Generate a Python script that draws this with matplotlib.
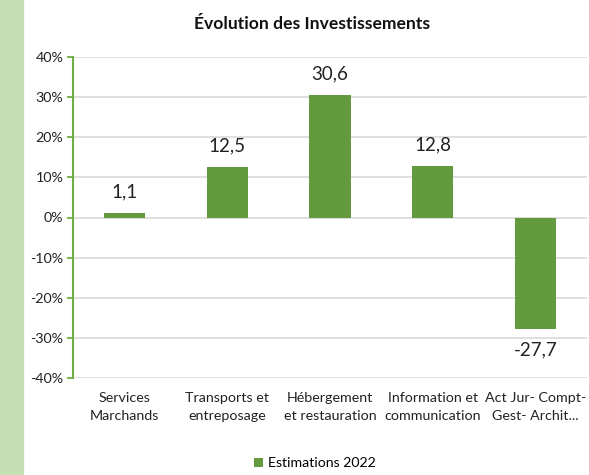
import numpy as np
import matplotlib
matplotlib.use("Agg")
import matplotlib.pyplot as plt
from matplotlib.patches import Rectangle

plt.rcParams['font.family'] = ['Lato', 'DejaVu Sans']

categories = ['Services\nMarchands', 'Transports et\nentreposage', 'Hébergement\net restauration',
              'Information et\ncommunication', 'Act Jur- Compt-\nGest- Archit...']
values = [1.1, 12.5, 30.6, 12.8, -27.7]
yticks = [-40, -30, -20, -10, 0, 10, 20, 30, 40]
series_name = 'Estimations 2022'

bar_color = '#629a3d'
axis_green = '#70ad47'

fig = plt.figure(figsize=(5.89, 4.75), dpi=100)
# light green strip on the left
fig.patches.append(Rectangle((0, 0), 23 / 589, 1, transform=fig.transFigure,
                             color='#c5e0b4', zorder=0))

ax = fig.add_axes([73 / 589, 97 / 475, 514 / 589, 321 / 475])
x = np.arange(len(categories))
bars = ax.bar(x, values, width=0.4, color=bar_color, zorder=3, label=series_name)

for xi, v in zip(x, values):
    lbl = ('%.1f' % v).replace('.', ',')
    off = 9 if v >= 0 else -9
    ax.annotate(lbl, (xi, v), xytext=(0, off), textcoords='offset points',
                ha='center', va='bottom' if v >= 0 else 'top', fontsize=13.5, color='#222222')

ax.set_xlim(-0.5, len(categories) - 0.5)
ax.set_ylim(-40, 40)
ax.set_yticks(yticks)
ax.set_yticklabels(['%d%%' % t for t in yticks], fontsize=10.3, color='#222222')
ax.set_xticks(x)
ax.set_xticklabels(categories, fontsize=10.3, color='#222222', linespacing=1.6)
ax.tick_params(axis='x', length=0, pad=10)
ax.tick_params(axis='y', length=4, width=1.3, color=axis_green, pad=3)
ax.grid(axis='y', color='#d9d9d9', linewidth=1.2, zorder=0)
ax.set_axisbelow(True)
for s in ['top', 'right', 'bottom']:
    ax.spines[s].set_visible(False)
ax.spines['left'].set_color(axis_green)
ax.spines['left'].set_linewidth(1.5)

fig.text(312 / 589, 1 - 24 / 475, 'Évolution des Investissements', ha='center', va='center',
         fontsize=12.6, fontweight='bold', color='#111111')

fig.legend(handles=[bars], labels=[series_name], loc='center', bbox_to_anchor=(315 / 589, 1 - 463 / 475),
           frameon=False, fontsize=10.2, handlelength=0.6, handleheight=0.6, handletextpad=0.4)

fig.savefig('out.png', dpi=100)
